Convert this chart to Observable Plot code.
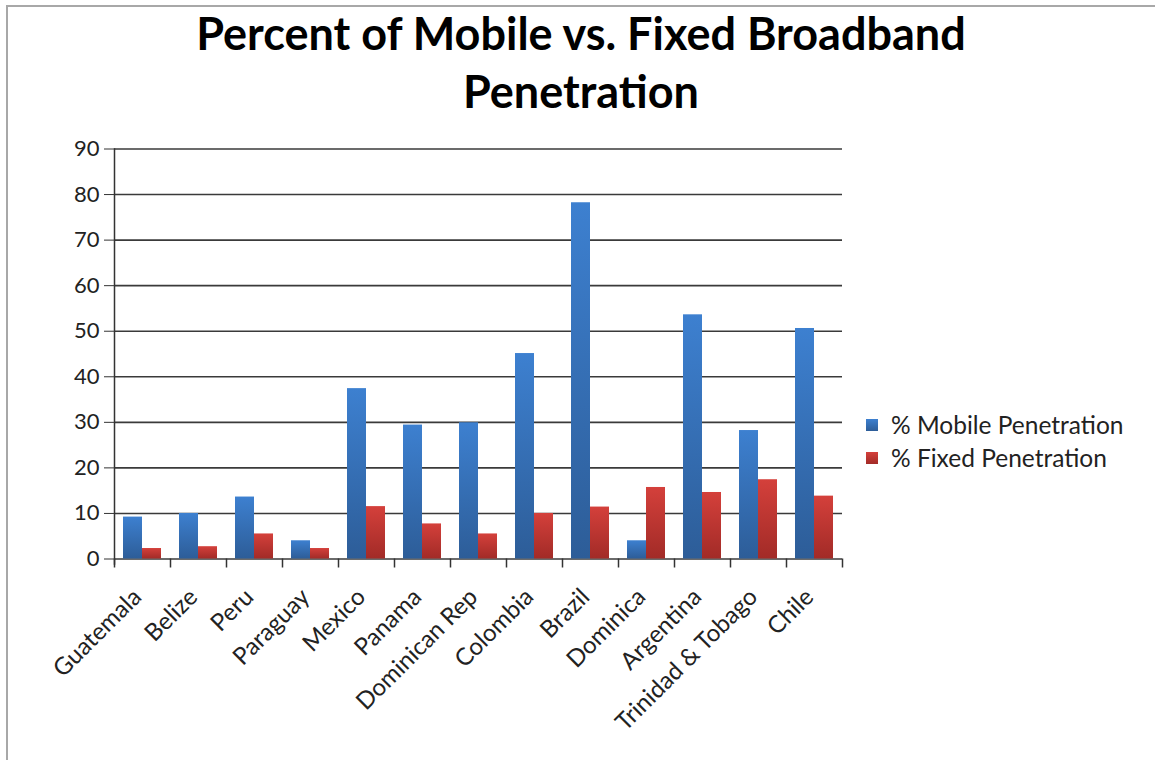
<!DOCTYPE html>
<html><head><meta charset="utf-8">
<script src="https://cdn.jsdelivr.net/npm/d3@7"></script>
<script src="https://cdn.jsdelivr.net/npm/@observablehq/plot@0.6"></script>
<style>
body{margin:0;background:#fff;font-family:Lato,"Open Sans",sans-serif;color:#1a1a1a;}
#wrap{position:relative;width:1155px;height:760px;overflow:hidden;background:#fff;}
#border{position:absolute;left:6px;top:5px;width:1300px;height:900px;border-left:2px solid #a8a8a8;border-top:2px solid #a8a8a8;pointer-events:none;}
#title{height:120px;box-sizing:border-box;padding-top:4px;width:1162px;text-align:center;font-weight:700;font-size:45px;line-height:58px;color:#000;}
#legend{position:absolute;left:866px;top:408px;font-size:24.5px;color:#222;}
#legend .item{display:flex;align-items:center;height:33px;}
#legend .sw{width:12px;height:12px;margin-right:13px;}
#chart svg{display:block;}
</style></head>
<body>
<div id="wrap">
  <div id="border"></div>
  <div id="title">Percent of Mobile vs. Fixed Broadband<br>Penetration</div>
  <div id="chart"></div>
  <div id="legend"></div>
</div>
<script>
const countries = ["Guatemala","Belize","Peru","Paraguay","Mexico","Panama","Dominican Rep","Colombia","Brazil","Dominica","Argentina","Trinidad & Tobago","Chile"];
const mobile = [9.2,10.0,13.6,4.0,37.4,29.4,29.9,45.1,78.2,4.0,53.6,28.2,50.6];
const fixed = [2.3,2.7,5.5,2.3,11.5,7.7,5.5,10.0,11.4,15.7,14.6,17.4,13.8];
const seriesNames = ["% Mobile Penetration","% Fixed Penetration"];
const yTicks = [0,10,20,30,40,50,60,70,80,90];

const mobileRows = countries.map((c,i)=>({country:c, value:mobile[i]}));
const fixedRows = countries.map((c,i)=>({country:c, value:fixed[i]}));

function defs(){
  const ns="http://www.w3.org/2000/svg";
  const d=document.createElementNS(ns,"defs");
  const mk=(id,top,bot)=>{
    const g=document.createElementNS(ns,"linearGradient");
    g.setAttribute("id",id);g.setAttribute("x1","0");g.setAttribute("y1","0");g.setAttribute("x2","0");g.setAttribute("y2","1");
    [[0,top],[1,bot]].forEach(([o,c])=>{const s=document.createElementNS(ns,"stop");s.setAttribute("offset",o);s.setAttribute("stop-color",c);g.appendChild(s);});
    d.appendChild(g);
  };
  mk("gBlue","#3d80d0","#2d5d98");
  mk("gRed","#d4403b","#a22b27");
  return d;
}

const chart = Plot.plot({
  width:1155, height:640,
  marginLeft:114, marginRight:313, marginTop:28.5, marginBottom:201.5,
  style:{fontFamily:"Lato, 'Open Sans', sans-serif", color:"#222", background:"transparent"},
  x:{domain:countries, padding:0, label:null},
  y:{domain:[0,90], label:null},
  marks:[
    defs,
    Plot.gridY(yTicks,{stroke:"#3a3a3a", strokeOpacity:1, strokeWidth:1.6}),
    Plot.barY(mobileRows,{x:"country", y:"value", fill:"url(#gBlue)", insetLeft:9, insetRight:28}),
    Plot.barY(fixedRows,{x:"country", y:"value", fill:"url(#gRed)", insetLeft:28, insetRight:9}),
    Plot.ruleX(countries,{x:d=>d, y1:0, y2:0, dx:-28, insetBottom:-9, stroke:"#333", strokeWidth:1.5}),
    Plot.ruleX(countries.slice(-1),{x:d=>d, y1:0, y2:0, dx:28, insetBottom:-9, stroke:"#333", strokeWidth:1.5}),
    Plot.frame({anchor:"left", stroke:"#333", strokeWidth:1.5, insetBottom:-5}),
    Plot.axisY({ticks:yTicks, tickSize:10, tickPadding:5, fontSize:22, stroke:"#333", label:null}),
    Plot.axisX({tickRotate:-45, tickSize:0, tickPadding:34, dx:-5, fontSize:24, label:null})
  ]
});
document.getElementById("chart").appendChild(chart);

const swatch = [["#3d80d0","#2d5d98"],["#d4403b","#a22b27"]];
const leg = document.getElementById("legend");
seriesNames.forEach((n,i)=>{
  const it=document.createElement("div");it.className="item";
  const sw=document.createElement("div");sw.className="sw";sw.style.background=`linear-gradient(${swatch[i][0]},${swatch[i][1]})`;
  const t=document.createElement("span");t.textContent=n;
  it.appendChild(sw);it.appendChild(t);leg.appendChild(it);
});
</script>
</body></html>
